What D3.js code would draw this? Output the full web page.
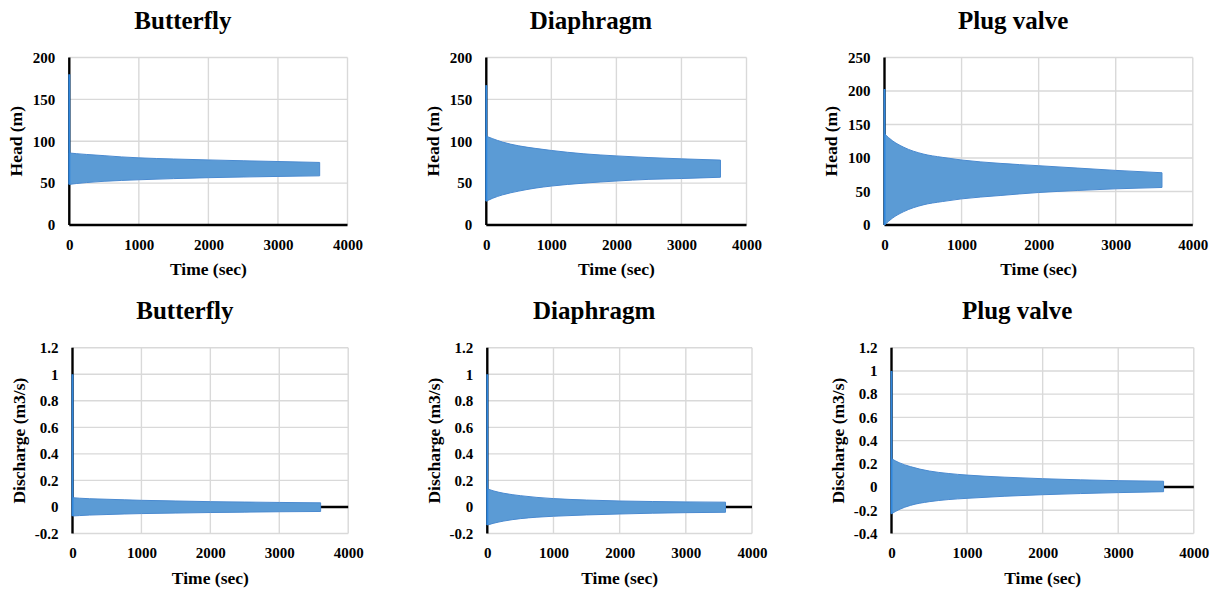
<!DOCTYPE html>
<html>
<head>
<meta charset="utf-8">
<script src="https://cdn.jsdelivr.net/npm/d3@7"></script>
<style>
  html, body { margin: 0; padding: 0; background: #ffffff; }
  svg { display: block; }
  text { font-family: "Liberation Serif", "Times New Roman", serif; font-weight: bold; fill: #000; }
</style>
</head>
<body>
<svg id="chart" width="1218" height="590"></svg>
<script>
// Sample times (s) at which the oscillation envelopes are given
const timeSec = [0, 100, 250, 500, 750, 1000, 1500, 2000, 2500, 3000, 3600];
const xTicks = [0, 1000, 2000, 3000, 4000];
const valveNames = ["Butterfly", "Diaphragm", "Plug valve"];

// Tick values
const headTicks = [0, 50, 100, 150, 200];
const headTicksPlug = [0, 50, 100, 150, 200, 250];
const dischargeTicks = [-0.2, 0, 0.2, 0.4, 0.6, 0.8, 1, 1.2];
const dischargeTicksPlug = [-0.4, -0.2, 0, 0.2, 0.4, 0.6, 0.8, 1, 1.2];

// Head (m): upper and lower envelopes of the oscillation
const headMaxButterfly = [86, 85.2, 84.2, 82.8, 81.3, 80.2, 78.8, 77.7, 76.7, 75.8, 74.7];
const headMinButterfly = [48.5, 49.5, 50.7, 52.2, 53.2, 54, 55.4, 56.5, 57.3, 58, 58.7];
const headMaxDiaphragm = [106, 103, 99, 94.5, 91.5, 89, 85, 82.5, 80.5, 79, 77.5];
const headMinDiaphragm = [28.5, 32, 36, 40.5, 44, 46.5, 50, 52.5, 54.5, 55.5, 57];
const headMaxPlug = [136, 126, 116, 106, 101, 97, 92, 88.5, 85, 81.5, 78];
const headMinPlug = [0, 10, 20, 30, 35, 39, 44, 48.5, 51.5, 54, 56];

// Discharge (m3/s): upper and lower envelopes of the oscillation
const dischargeMaxButterfly = [0.07, 0.066, 0.062, 0.058, 0.054, 0.05, 0.045, 0.04, 0.037, 0.034, 0.031];
const dischargeMinButterfly = [-0.068, -0.065, -0.061, -0.057, -0.053, -0.05, -0.046, -0.042, -0.039, -0.036, -0.034];
const dischargeMaxDiaphragm = [0.136, 0.12, 0.103, 0.085, 0.072, 0.063, 0.052, 0.045, 0.041, 0.038, 0.036];
const dischargeMinDiaphragm = [-0.136, -0.122, -0.106, -0.088, -0.077, -0.07, -0.06, -0.053, -0.047, -0.043, -0.04];
const dischargeMaxPlug = [0.244, 0.21, 0.176, 0.138, 0.117, 0.103, 0.085, 0.072, 0.062, 0.055, 0.05];
const dischargeMinPlug = [-0.23, -0.194, -0.158, -0.126, -0.108, -0.097, -0.079, -0.066, -0.056, -0.048, -0.04];

// Initial surge peak at t = 0
const headPeak = [180, 167, 203];
const dischargePeak = [1.0, 1.0, 1.0];

const panels = [
  { title: valveNames[0], yLabel: "Head (m)", ticks: headTicks, upper: headMaxButterfly, lower: headMinButterfly, peak: headPeak[0], box: { x0: 69.3, x1: 347.5, top: 57.5, bottom: 225 } },
  { title: valveNames[1], yLabel: "Head (m)", ticks: headTicks, upper: headMaxDiaphragm, lower: headMinDiaphragm, peak: headPeak[1], box: { x0: 486.3, x1: 746.5, top: 57.5, bottom: 225 } },
  { title: valveNames[2], yLabel: "Head (m)", ticks: headTicksPlug, upper: headMaxPlug, lower: headMinPlug, peak: headPeak[2], box: { x0: 884.5, x1: 1192.8, top: 57.5, bottom: 225 } },
  { title: valveNames[0], yLabel: "Discharge (m3/s)", ticks: dischargeTicks, upper: dischargeMaxButterfly, lower: dischargeMinButterfly, peak: dischargePeak[0], box: { x0: 72.5, x1: 348.2, top: 347.7, bottom: 533.5 } },
  { title: valveNames[1], yLabel: "Discharge (m3/s)", ticks: dischargeTicks, upper: dischargeMaxDiaphragm, lower: dischargeMinDiaphragm, peak: dischargePeak[1], box: { x0: 487.3, x1: 752, top: 347.7, bottom: 533.5 } },
  { title: valveNames[2], yLabel: "Discharge (m3/s)", ticks: dischargeTicksPlug, upper: dischargeMaxPlug, lower: dischargeMinPlug, peak: dischargePeak[2], box: { x0: 891.5, x1: 1193.8, top: 347.7, bottom: 533.5 } }
];

const svg = d3.select("#chart");
const fmt = v => String(+v.toFixed(1));
const gridColor = "#d9d9d9";
const bandFill = "#5b9bd5";

panels.forEach(p => {
  const b = p.box;
  const x = d3.scaleLinear().domain([xTicks[0], xTicks[xTicks.length - 1]]).range([b.x0, b.x1]);
  const y = d3.scaleLinear().domain([p.ticks[0], p.ticks[p.ticks.length - 1]]).range([b.bottom, b.top]);
  const g = svg.append("g");

  // Gridlines
  g.selectAll("line.hgrid").data(p.ticks).join("line")
    .attr("x1", b.x0).attr("x2", b.x1)
    .attr("y1", d => y(d)).attr("y2", d => y(d))
    .attr("stroke", gridColor).attr("stroke-width", 1.4);
  g.selectAll("line.vgrid").data(xTicks.slice(1)).join("line")
    .attr("x1", d => x(d)).attr("x2", d => x(d))
    .attr("y1", b.top).attr("y2", b.bottom)
    .attr("stroke", gridColor).attr("stroke-width", 1.4);

  // Axis lines: vertical at t = 0, horizontal at zero
  g.append("line")
    .attr("x1", x(0)).attr("x2", x(4000))
    .attr("y1", y(0)).attr("y2", y(0))
    .attr("stroke", "#000").attr("stroke-width", 2.4);
  g.append("line")
    .attr("x1", x(0)).attr("x2", x(0))
    .attr("y1", b.top).attr("y2", b.bottom)
    .attr("stroke", "#000").attr("stroke-width", 2.4);

  // Oscillation band
  const rows = timeSec.map((t, i) => ({ t, hi: p.upper[i], lo: p.lower[i] }));
  const area = d3.area()
    .x(d => x(d.t)).y0(d => y(d.lo)).y1(d => y(d.hi))
    .curve(d3.curveMonotoneX);
  g.append("path").datum(rows)
    .attr("d", area)
    .attr("fill", bandFill)
    .attr("stroke", "#4a8ad0").attr("stroke-width", 1)
    .attr("stroke-linejoin", "round");

  // Initial surge spike
  g.append("line")
    .attr("x1", x(0)).attr("x2", x(0))
    .attr("y1", y(p.lower[0])).attr("y2", y(p.peak))
    .attr("stroke", "#2f86dd").attr("stroke-width", 2);

  // Tick labels
  const yAxis = g.append("g").attr("transform", `translate(${b.x0},0)`)
    .call(d3.axisLeft(y).tickValues(p.ticks).tickSize(0).tickPadding(14).tickFormat(fmt));
  const xAxis = g.append("g").attr("transform", `translate(0,${b.bottom})`)
    .call(d3.axisBottom(x).tickValues(xTicks).tickSize(0).tickPadding(14).tickFormat(d3.format("d")));
  [yAxis, xAxis].forEach(a => {
    a.select(".domain").remove();
    a.attr("font-family", null).attr("font-size", null);
    a.selectAll("text").style("font-size", "15px");
  });

  // Titles
  const cx = (b.x0 + b.x1) / 2;
  g.append("text")
    .attr("x", cx - 25.5).attr("y", b.top - 28.5)
    .attr("text-anchor", "middle")
    .style("font-size", "25px")
    .text(p.title);
  g.append("text")
    .attr("x", cx).attr("y", b.bottom + 50)
    .attr("text-anchor", "middle")
    .style("font-size", "17.5px")
    .text("Time (sec)");
  g.append("text")
    .attr("transform", `translate(${b.x0 - 47.5},${(b.top + b.bottom) / 2}) rotate(-90)`)
    .attr("text-anchor", "middle")
    .style("font-size", "17.5px")
    .text(p.yLabel);
});
</script>
</body>
</html>
